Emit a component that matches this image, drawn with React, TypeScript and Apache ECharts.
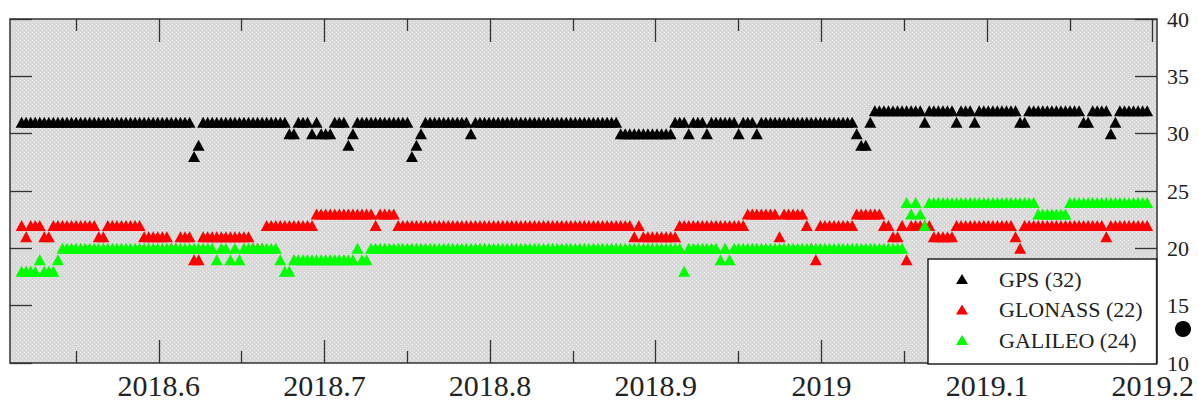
import React, { useEffect, useRef } from "react";
import * as echarts from "echarts";

// Daily number of tracked satellites per constellation.
// Samples are one day apart, starting at the epoch below (decimal year).
const FIRST_EPOCH = 2018.5172;
const DAYS_PER_YEAR = 365;

const gpsCounts = [
  31, 31, 31, 31, 31, 31, 31, 31, 31, 31,
  31, 31, 31, 31, 31, 31, 31, 31, 31, 31,
  31, 31, 31, 31, 31, 31, 31, 31, 31, 31,
  31, 31, 31, 31, 31, 31, 31, 31, 28, 29,
  31, 31, 31, 31, 31, 31, 31, 31, 31, 31,
  31, 31, 31, 31, 31, 31, 31, 31, 31, 30,
  30, 31, 31, 31, 30, 31, 30, 30, 30, 31,
  31, 31, 29, 30, 31, 31, 31, 31, 31, 31,
  31, 31, 31, 31, 31, 31, 28, 29, 30, 31,
  31, 31, 31, 31, 31, 31, 31, 31, 31, 30,
  31, 31, 31, 31, 31, 31, 31, 31, 31, 31,
  31, 31, 31, 31, 31, 31, 31, 31, 31, 31,
  31, 31, 31, 31, 31, 31, 31, 31, 31, 31,
  31, 31, 30, 30, 30, 30, 30, 30, 30, 30,
  30, 30, 30, 30, 31, 31, 31, 30, 31, 31,
  31, 30, 31, 31, 31, 31, 31, 31, 30, 31,
  31, 31, 30, 31, 31, 31, 31, 31, 31, 31,
  31, 31, 31, 31, 31, 31, 31, 31, 31, 31,
  31, 31, 31, 31, 30, 29, 29, 31, 32, 32,
  32, 32, 32, 32, 32, 32, 32, 32, 32, 31,
  32, 32, 32, 32, 32, 32, 31, 32, 32, 32,
  31, 32, 32, 32, 32, 32, 32, 32, 32, 32,
  31, 31, 32, 32, 32, 32, 32, 32, 32, 32,
  32, 32, 32, 32, 31, 31, 32, 32, 32, 32,
  30, 31, 32, 32, 32, 32, 32, 32, 32,
];

const glonassCounts = [
  22, 21, 22, 22, 22, 21, 21, 22, 22, 22,
  22, 22, 22, 22, 22, 22, 22, 21, 21, 22,
  22, 22, 22, 22, 22, 22, 22, 21, 21, 21,
  21, 21, 21, 20, 20, 21, 21, 21, 19, 19,
  21, 21, 21, 21, 21, 21, 21, 21, 21, 21,
  21, 20, 20, 20, 22, 22, 22, 22, 22, 22,
  22, 22, 22, 22, 22, 23, 23, 23, 23, 23,
  23, 23, 23, 23, 23, 23, 23, 23, 22, 23,
  23, 23, 23, 22, 22, 22, 22, 22, 22, 22,
  22, 22, 22, 22, 22, 22, 22, 22, 22, 22,
  22, 22, 22, 22, 22, 22, 22, 22, 22, 22,
  22, 22, 22, 22, 22, 22, 22, 22, 22, 22,
  22, 22, 22, 22, 22, 22, 22, 22, 22, 22,
  22, 22, 22, 22, 22, 21, 22, 21, 21, 21,
  21, 21, 21, 21, 21, 22, 22, 22, 22, 22,
  22, 22, 22, 22, 22, 22, 22, 22, 22, 22,
  23, 23, 23, 23, 23, 23, 23, 21, 23, 23,
  23, 23, 23, 22, 20, 19, 22, 22, 22, 22,
  22, 22, 22, 22, 23, 23, 23, 23, 23, 23,
  22, 22, 21, 21, 22, 19, 22, 22, 22, 22,
  22, 21, 21, 21, 21, 21, 22, 22, 22, 22,
  22, 22, 22, 22, 22, 22, 22, 22, 22, 21,
  20, 22, 22, 22, 22, 22, 22, 22, 22, 22,
  22, 22, 22, 22, 22, 22, 22, 22, 22, 21,
  22, 22, 22, 22, 22, 22, 22, 22, 22,
];

const galileoCounts = [
  18, 18, 18, 18, 19, 18, 18, 18, 19, 20,
  20, 20, 20, 20, 20, 20, 20, 20, 20, 20,
  20, 20, 20, 20, 20, 20, 20, 20, 20, 20,
  20, 20, 20, 20, 20, 20, 20, 20, 20, 20,
  20, 20, 20, 19, 20, 20, 19, 20, 19, 20,
  20, 20, 20, 20, 20, 20, 20, 19, 18, 18,
  19, 19, 19, 19, 19, 19, 19, 19, 19, 19,
  19, 19, 19, 19, 20, 19, 19, 20, 20, 20,
  20, 20, 20, 20, 20, 20, 20, 20, 20, 20,
  20, 20, 20, 20, 20, 20, 20, 20, 20, 20,
  20, 20, 20, 20, 20, 20, 20, 20, 20, 20,
  20, 20, 20, 20, 20, 20, 20, 20, 20, 20,
  20, 20, 20, 20, 20, 20, 20, 20, 20, 20,
  20, 20, 20, 20, 20, 20, 20, 20, 20, 20,
  20, 20, 20, 20, 20, 20, 18, 20, 20, 20,
  20, 20, 20, 20, 19, 20, 19, 20, 20, 20,
  20, 20, 20, 20, 20, 20, 20, 20, 20, 20,
  20, 20, 20, 20, 20, 20, 20, 20, 20, 20,
  20, 20, 20, 20, 20, 20, 20, 20, 20, 20,
  20, 20, 20, 20, 20, 24, 23, 24, 23, 22,
  24, 24, 24, 24, 24, 24, 24, 24, 24, 24,
  24, 24, 24, 24, 24, 24, 24, 24, 24, 24,
  24, 24, 24, 24, 23, 23, 23, 23, 23, 23,
  23, 24, 24, 24, 24, 24, 24, 24, 24, 24,
  24, 24, 24, 24, 24, 24, 24, 24, 24,
];

const seriesNames = ["GPS (32)", "GLONASS (22)", "GALILEO (24)"];
const seriesColors = ["#000000", "#ff0000", "#00ff00"];

const xMajorTicks = [2018.6, 2018.7, 2018.8, 2018.9, 2019.0, 2019.1, 2019.2];
const xMinorTicks = [2018.55, 2018.65, 2018.75, 2018.85, 2018.95, 2019.05, 2019.15];
const X_MIN = 2018.5102;
const X_MAX = 2019.2026;
const Y_MIN = 10;
const Y_MAX = 40;
const Y_STEP = 5;

const SERIF = "'Liberation Serif', 'Times New Roman', 'DejaVu Serif', serif";
const INK = "#222222";

function toPoints(counts: number[]): [number, number][] {
  return counts.map((c, i) => [FIRST_EPOCH + i / DAYS_PER_YEAR, c]);
}

// Light grey plot background with a fine white dot grid.
function makeDotTile(): HTMLCanvasElement {
  const c = document.createElement("canvas");
  c.width = 4;
  c.height = 4;
  const g = c.getContext("2d")!;
  g.fillStyle = "#d8d8d8";
  g.fillRect(0, 0, 4, 4);
  g.fillStyle = "#f0f0f0";
  g.fillRect(0, 0, 1, 1);
  g.fillRect(2, 2, 1, 1);
  return c;
}

function formatYear(v: number): string {
  return String(Number(v.toFixed(1)));
}

function xAxisOf(position: "top" | "bottom", ticks: number[], len: number, labels: boolean) {
  return {
    type: "value",
    position,
    min: X_MIN,
    max: X_MAX,
    axisLine: { show: false },
    splitLine: { show: false },
    axisTick: {
      show: true,
      inside: true,
      length: len,
      customValues: ticks,
      lineStyle: { color: "#333", width: 1.3 },
    },
    axisLabel: labels
      ? {
          show: true,
          customValues: ticks,
          formatter: (v: number) => formatYear(v),
          fontFamily: SERIF,
          fontSize: 30,
          lineHeight: 20,
          color: INK,
          margin: 12,
        }
      : { show: false },
  };
}

function yAxisOf(position: "left" | "right", labels: boolean) {
  return {
    type: "value",
    position,
    min: Y_MIN,
    max: Y_MAX,
    interval: Y_STEP,
    axisLine: { show: false },
    splitLine: { show: false },
    axisTick: { show: true, inside: true, length: 22, lineStyle: { color: "#333", width: 1.3 } },
    axisLabel: labels
      ? { show: true, fontFamily: SERIF, fontSize: 22, lineHeight: 14, color: INK, margin: 10 }
      : { show: false },
  };
}

export default function App() {
  const ref = useRef<HTMLDivElement>(null);

  useEffect(() => {
    if (!ref.current) return;
    const chart = echarts.init(ref.current, null, { renderer: "svg" });
    const tile = makeDotTile();

    const counts = [gpsCounts, glonassCounts, galileoCounts];

    chart.setOption({
      animation: false,
      grid: {
        left: 10,
        right: 41,
        top: 19,
        bottom: 36,
        show: true,
        borderColor: "#333",
        borderWidth: 1.5,
        backgroundColor: { image: tile, repeat: "repeat", imageWidth: 4, imageHeight: 4 },
      },
      xAxis: [
        xAxisOf("bottom", xMajorTicks, 23, true),
        xAxisOf("bottom", xMinorTicks, 12, false),
        xAxisOf("top", xMajorTicks, 23, false),
        xAxisOf("top", xMinorTicks, 12, false),
      ],
      yAxis: [yAxisOf("right", true), yAxisOf("left", false)],
      legend: {
        orient: "vertical",
        left: 928,
        top: 259,
        padding: [8, 14, 12, 28],
        itemWidth: 12,
        itemHeight: 10,
        itemGap: 6.5,
        icon: "triangle",
        selectedMode: false,
        backgroundColor: "#ffffff",
        borderColor: "#222",
        borderWidth: 1.5,
        borderRadius: 0,
        textStyle: {
          fontFamily: SERIF,
          fontSize: 22,
          color: INK,
          lineHeight: 24,
          padding: [0, 0, 0, 26],
        },
        data: seriesNames,
      },
      series: counts.map((c, k) => ({
        name: seriesNames[k],
        type: "scatter",
        xAxisIndex: 0,
        yAxisIndex: 0,
        symbol: "triangle",
        symbolSize: [12, 11],
        itemStyle: { color: seriesColors[k], opacity: 1 },
        emphasis: { disabled: true },
        data: toPoints(c),
      })),
      graphic: [
        {
          type: "circle",
          shape: { cx: 1183, cy: 329, r: 8 },
          style: { fill: "#000" },
          z: 100,
        },
      ],
    });

    return () => chart.dispose();
  }, []);

  return (
    <div
      ref={ref}
      style={{ position: "fixed", left: 0, top: 0, width: 1198, height: 400, background: "#fff" }}
    />
  );
}
